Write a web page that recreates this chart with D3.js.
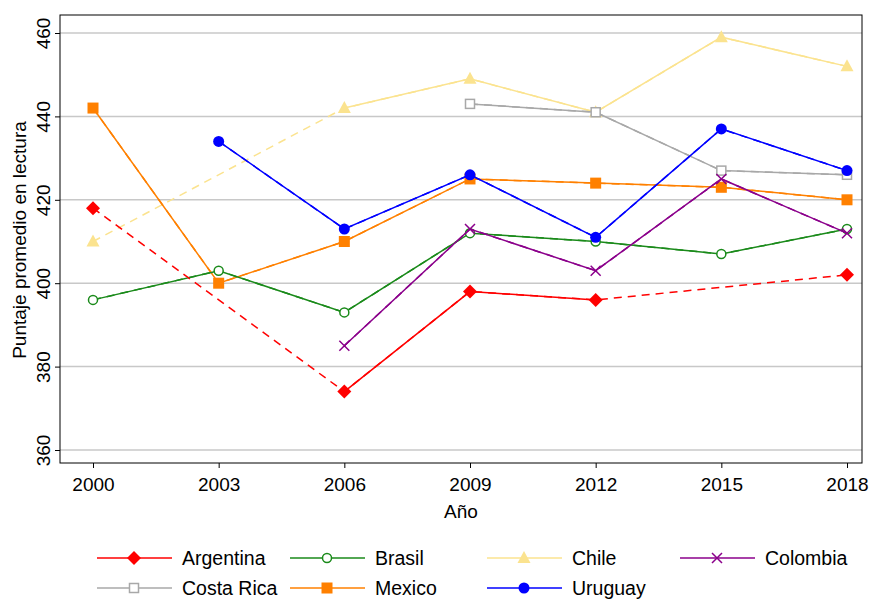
<!DOCTYPE html>
<html><head><meta charset="utf-8">
<script src="https://cdn.jsdelivr.net/npm/d3@7"></script>
<style>body{margin:0;background:#fff}text{font-family:"Liberation Sans",Arial,sans-serif}</style>
</head><body><svg id="c" width="872" height="601"></svg>
<script>
const years=[2000,2003,2006,2009,2012,2015,2018];
const yTicks=[360,380,400,420,440,460];
const argentina=[418,null,374,398,396,null,402];
const brasil=[396,403,393,412,410,407,413];
const chile=[410,null,442,449,441,459,452];
const colombia=[null,null,385,413,403,425,412];
const costaRica=[null,null,null,443,441,427,426];
const mexico=[442,400,410,425,424,423,420];
const uruguay=[null,434,413,426,411,437,427];
const series=[
 {name:"Argentina",v:argentina,c:"#ff0000",m:"diamond"},
 {name:"Brasil",v:brasil,c:"#1a8a1a",m:"ocircle"},
 {name:"Chile",v:chile,c:"#fbe38f",m:"triangle"},
 {name:"Colombia",v:colombia,c:"#8b008b",m:"x"},
 {name:"Costa Rica",v:costaRica,c:"#a8a8a8",m:"osquare"},
 {name:"Mexico",v:mexico,c:"#ff8000",m:"square"},
 {name:"Uruguay",v:uruguay,c:"#0000ff",m:"circle"}];
const drawOrder=[2,4,5,1,3,6,0];
const svg=d3.select("#c");
const L=60,R=862,T=15,B=463;
const x=d3.scalePoint().domain(years).range([93,847]);
const y=d3.scaleLinear().domain([360,460]).range([450,33]);
svg.append("g").selectAll("line").data(yTicks).join("line")
 .attr("x1",L).attr("x2",R).attr("y1",d=>y(d)).attr("y2",d=>y(d)).attr("stroke","#c8c8c8").attr("stroke-width",1.5);
svg.append("rect").attr("x",L).attr("y",T).attr("width",R-L).attr("height",B-T).attr("fill","none").attr("stroke","#000");
const ya=svg.append("g").attr("transform",`translate(${L},0)`).call(d3.axisLeft(y).tickValues(yTicks).tickSize(5).tickSizeOuter(0));
ya.select(".domain").remove();
ya.selectAll("text").attr("font-size",19).attr("x",0).attr("y",0).attr("dy",0)
 .attr("text-anchor","middle").attr("transform","translate(-10,0) rotate(-90)");
const xa=svg.append("g").attr("transform",`translate(0,${B})`).call(d3.axisBottom(x).tickSize(5).tickSizeOuter(0));
xa.select(".domain").remove();
xa.selectAll("text").attr("font-size",19).attr("y",28).attr("dy",0);
svg.append("text").attr("x",(L+R)/2).attr("y",518).attr("text-anchor","middle").attr("font-size",19).text("Año");
svg.append("text").attr("transform","translate(26,240) rotate(-90)").attr("text-anchor","middle").attr("font-size",19).text("Puntaje promedio en lectura");
function marker(g,type,c,px,py){
 if(type==="diamond")g.append("path").attr("d",`M${px},${py-7}L${px+7},${py}L${px},${py+7}L${px-7},${py}Z`).attr("fill",c);
 else if(type==="ocircle")g.append("circle").attr("cx",px).attr("cy",py).attr("r",4.5).attr("fill","#fff").attr("stroke",c).attr("stroke-width",1.5);
 else if(type==="circle")g.append("circle").attr("cx",px).attr("cy",py).attr("r",5.5).attr("fill",c);
 else if(type==="triangle")g.append("path").attr("d",`M${px},${py-7}L${px+6.5},${py+5}L${px-6.5},${py+5}Z`).attr("fill",c);
 else if(type==="square")g.append("rect").attr("x",px-5.5).attr("y",py-5.5).attr("width",11).attr("height",11).attr("fill",c);
 else if(type==="osquare")g.append("rect").attr("x",px-4.5).attr("y",py-4.5).attr("width",9).attr("height",9).attr("fill","#fff").attr("stroke",c).attr("stroke-width",1.5);
 else if(type==="x")g.append("path").attr("d",`M${px-5},${py-5}L${px+5},${py+5}M${px-5},${py+5}L${px+5},${py-5}`).attr("stroke",c).attr("stroke-width",1.5);
}
const line=d3.line().defined(d=>d[1]!=null).x(d=>x(d[0])).y(d=>y(d[1]));
drawOrder.forEach(i=>{
 const s=series[i];const pts=years.map((yr,j)=>[yr,s.v[j]]);
 const g=svg.append("g");
 g.append("path").attr("d",line(pts.filter(p=>p[1]!=null))).attr("fill","none").attr("stroke",s.c).attr("stroke-width",1.5).attr("stroke-dasharray","8,6");
 g.append("path").attr("d",line(pts)).attr("fill","none").attr("stroke",s.c).attr("stroke-width",1.5);
 pts.filter(p=>p[1]!=null).forEach(p=>marker(g,s.m,s.c,x(p[0]),y(p[1])));
});
const lx=[97,290,487,680],ly=[558,588];
series.forEach((s,i)=>{
 const cx=lx[i%4],cy=ly[Math.floor(i/4)];
 const g=svg.append("g");
 g.append("line").attr("x1",cx).attr("x2",cx+75).attr("y1",cy).attr("y2",cy).attr("stroke",s.c).attr("stroke-width",1.5);
 marker(g,s.m,s.c,cx+37,cy);
 g.append("text").attr("x",cx+85).attr("y",cy+7).attr("font-size",19.5).text(s.name);
});
</script></body></html>
